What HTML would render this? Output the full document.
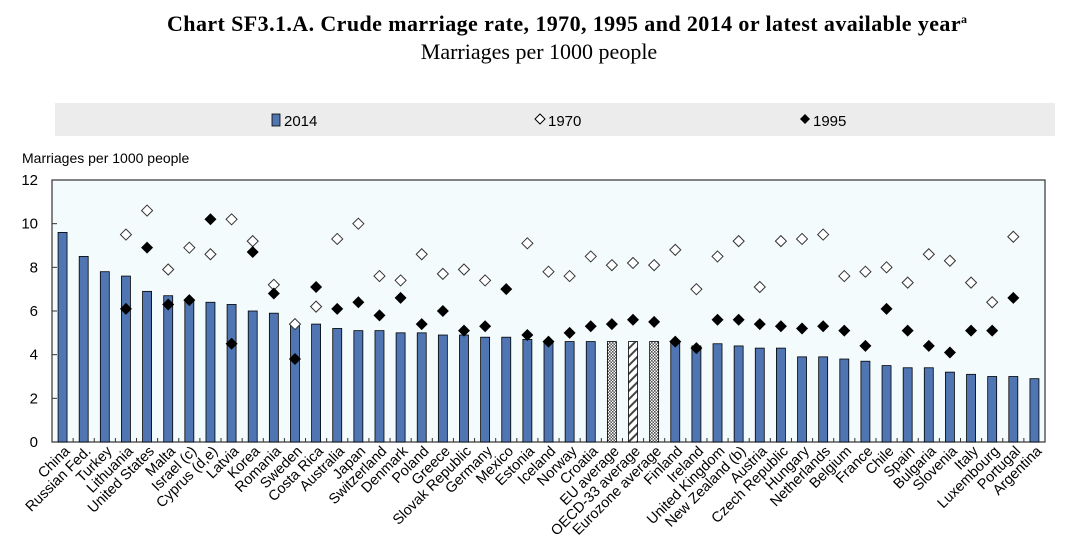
<!DOCTYPE html>
<html><head><meta charset="utf-8"><style>
body{margin:0;background:#fff;width:1080px;height:549px;overflow:hidden;font-family:"Liberation Sans",sans-serif}
</style></head><body>
<svg width="1080" height="549" xmlns="http://www.w3.org/2000/svg">
<defs>
<pattern id="dots" width="3" height="3" patternUnits="userSpaceOnUse"><rect width="3" height="3" fill="#fff"/><rect width="1.6" height="1.6" fill="#555"/><rect x="1.5" y="1.5" width="1.6" height="1.6" fill="#555"/></pattern>
<pattern id="hatch" width="6" height="6" patternUnits="userSpaceOnUse" patternTransform="rotate(45)"><rect width="6" height="6" fill="#fff"/><rect width="2" height="6" fill="#444"/></pattern>
</defs>
<text x="567" y="31" text-anchor="middle" font-family="Liberation Serif" font-weight="bold" font-size="22" textLength="800">Chart SF3.1.A. Crude marriage rate, 1970, 1995 and 2014 or latest available year<tspan dy="-8" font-size="12">a</tspan></text>
<text x="539" y="59" text-anchor="middle" font-family="Liberation Serif" font-size="22">Marriages per 1000 people</text>
<rect x="55" y="103" width="1000" height="33" fill="#ececec"/>
<g><rect x="272" y="114" width="8" height="12" fill="#4f75b3" stroke="#000" stroke-width="0.8"/><text x="284" y="126" font-size="15">2014</text></g>
<g><path d="M540,114 l5,5 l-5,5 l-5,-5z" fill="#fff" stroke="#000"/><text x="548" y="126" font-size="15">1970</text></g>
<g><path d="M805,114 l5,5 l-5,5 l-5,-5z" fill="#000"/><text x="813" y="126" font-size="15">1995</text></g>
<text x="22" y="163" font-size="14">Marriages per 1000 people</text>
<rect x="52" y="180" width="993" height="262" fill="#f4fbfd" stroke="#333" stroke-width="1.2"/>
<g id="g"></g>
</svg>
<script>
const categories=["China","Russian Fed.","Turkey","Lithuania","United States","Malta","Israel (c)","Cyprus (d,e)","Latvia","Korea","Romania","Sweden","Costa Rica","Australia","Japan","Switzerland","Denmark","Poland","Greece","Slovak Republic","Germany","Mexico","Estonia","Iceland","Norway","Croatia","EU average","OECD-33 average","Eurozone average","Finland","Ireland","United Kingdom","New Zealand (b)","Austria","Czech Republic","Hungary","Netherlands","Belgium","France","Chile","Spain","Bulgaria","Slovenia","Italy","Luxembourg","Portugal","Argentina"];
const v2014=[9.6,8.5,7.8,7.6,6.9,6.7,6.5,6.4,6.3,6.0,5.9,5.4,5.4,5.2,5.1,5.1,5.0,5.0,4.9,4.9,4.8,4.8,4.7,4.6,4.6,4.6,4.6,4.6,4.6,4.6,4.4,4.5,4.4,4.3,4.3,3.9,3.9,3.8,3.7,3.5,3.4,3.4,3.2,3.1,3.0,3.0,2.9];
const v1970=[null,null,null,9.5,10.6,7.9,8.9,8.6,10.2,9.2,7.2,5.4,6.2,9.3,10.0,7.6,7.4,8.6,7.7,7.9,7.4,null,9.1,7.8,7.6,8.5,8.1,8.2,8.1,8.8,7.0,8.5,9.2,7.1,9.2,9.3,9.5,7.6,7.8,8.0,7.3,8.6,8.3,7.3,6.4,9.4,null];
const v1995=[null,null,null,6.1,8.9,6.3,6.5,10.2,4.5,8.7,6.8,3.8,7.1,6.1,6.4,5.8,6.6,5.4,6.0,5.1,5.3,7.0,4.9,4.6,5.0,5.3,5.4,5.6,5.5,4.6,4.3,5.6,5.6,5.4,5.3,5.2,5.3,5.1,4.4,6.1,5.1,4.4,4.1,5.1,5.1,6.6,null];
const yTicks=[0,2,4,6,8,10,12];
const X0=52,X1=1045,Y0=442,Y1=180,YMAX=12;
const n=categories.length;
const sx=i=>X0+(X1-X0)*(i+0.5)/n;
const sy=v=>Y0-(Y0-Y1)*v/YMAX;
const NS="http://www.w3.org/2000/svg",g=document.getElementById('g');
function mk(t,a){const e=document.createElementNS(NS,t);for(const k in a)e.setAttribute(k,a[k]);g.appendChild(e);return e;}
yTicks.forEach(t=>{
 const l=mk('line',{x1:X0,x2:X0+5,y1:sy(t),y2:sy(t),stroke:'#333'});
 
 
 const tx=mk('text',{x:38,y:sy(t)+5,'text-anchor':'end','font-size':'15'});tx.textContent=t;
 
 
});
categories.forEach((c,i)=>{
 const cx=sx(i), w=9;
 let fill='#4f75b3';
 if(c==="EU average"||c==="Eurozone average")fill='url(#dots)';
 if(c==="OECD-33 average")fill='url(#hatch)';
 const b=mk('rect',{x:cx-w/2,y:sy(v2014[i]),width:w,height:Y0-sy(v2014[i]),fill:fill,stroke:'#000','stroke-width':0.8});
 
 
 if(i>0){const tk=mk('line',{x1:X0+(X1-X0)*i/n,x2:X0+(X1-X0)*i/n,y1:Y0,y2:Y0-4,stroke:'#333'});
 
 }
 if(v1970[i]!=null){const y=sy(v1970[i]);const p=mk('path',{d:`M${cx},${y-5.5} l5.5,5.5 l-5.5,5.5 l-5.5,-5.5z`,fill:'#fff',stroke:'#333','stroke-width':1});
 
 }
 if(v1995[i]!=null){const y=sy(v1995[i]);const p=mk('path',{d:`M${cx},${y-6} l6,6 l-6,6 l-6,-6z`,fill:'#000'});
 
 }
 const lx=cx+8, ly=452;
 const t=mk('text',{x:lx,y:ly,'text-anchor':'end','font-size':'14.5',transform:`rotate(-45 ${lx} ${ly})`});t.textContent=c;
 
 
});
</script>
</body></html>
